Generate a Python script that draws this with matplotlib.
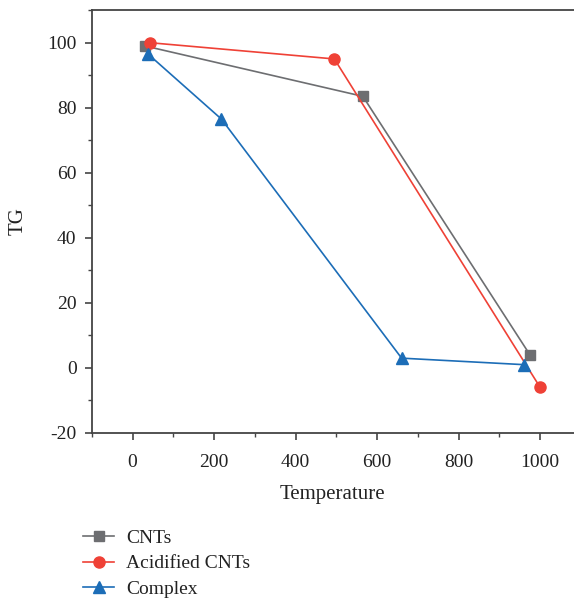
import matplotlib.pyplot as plt
from matplotlib.ticker import MultipleLocator

# TG curves
cnt_x = [30, 565, 975]
cnt_y = [99, 83.5, 4]
acid_x = [42, 495, 1000]
acid_y = [100, 95, -6]
comp_x = [38, 218, 660, 960]
comp_y = [96.5, 76.5, 3, 1]

plt.rcParams['font.family'] = ['Liberation Serif', 'DejaVu Serif']
plt.rcParams['axes.unicode_minus'] = False

fig = plt.figure(figsize=(5.74, 5.98), dpi=100)
ax = fig.add_axes([0.160, 0.276, 0.840, 0.707])

ax.plot(cnt_x, cnt_y, color='#6d6e71', lw=1.2, marker='s', ms=7, label='CNTs')
ax.plot(acid_x, acid_y, color='#ef4136', lw=1.2, marker='o', ms=8, label='Acidified CNTs')
ax.plot(comp_x, comp_y, color='#1c6db7', lw=1.2, marker='^', ms=8.5, label='Complex')

ax.set_xlim(-100, 1083)
ax.set_ylim(-20, 110)
ax.xaxis.set_major_locator(MultipleLocator(200))
ax.xaxis.set_minor_locator(MultipleLocator(100))
ax.yaxis.set_major_locator(MultipleLocator(20))
ax.yaxis.set_minor_locator(MultipleLocator(10))
ax.spines['right'].set_visible(False)
for s in ['left', 'bottom', 'top']:
    ax.spines[s].set_color('#444444')
    ax.spines[s].set_linewidth(1.3)
ax.tick_params(which='major', direction='out', length=5, width=1.2, colors='#444444',
               labelsize=14, labelcolor='#222222')
ax.tick_params(axis='x', which='major', pad=10)
ax.tick_params(axis='y', which='major', pad=6)
ax.tick_params(which='minor', direction='out', length=3, width=1.0, colors='#444444')

ax.set_xlabel('Temperature', fontsize=15, color='#222222', labelpad=10)
ax.set_ylabel('TG', fontsize=15, color='#222222', labelpad=14)

fig.legend(loc='upper left', bbox_to_anchor=(0.128, 0.131), frameon=False,
           fontsize=14, handlelength=1.6, handletextpad=0.6, labelspacing=0.4,
           borderpad=0, labelcolor='#222222')

plt.savefig('out.png', dpi=100)
